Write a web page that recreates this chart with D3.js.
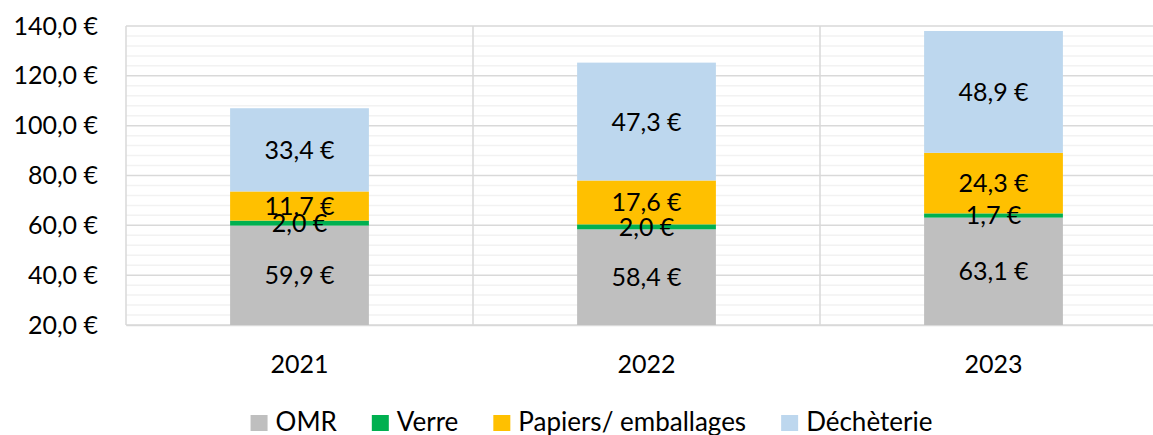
<!DOCTYPE html>
<html>
<head>
<meta charset="utf-8">
<script src="https://cdn.jsdelivr.net/npm/d3@7"></script>
<style>
  body { margin: 0; background: #fff; }
  svg { display: block; font-family: Lato, "Open Sans", sans-serif; }
</style>
</head>
<body>
<svg id="chart"></svg>
<script>
// stacked cost per year, by waste stream

/* DATA */
const years = ['2021', '2022', '2023'];
const seriesNames = ['OMR', 'Verre', 'Papiers/ emballages', 'Déchèterie'];
const omr = [59.9, 58.4, 63.1];
const verre = [2.0, 2.0, 1.7];
const papiers = [11.7, 17.6, 24.3];
const decheterie = [33.4, 47.3, 48.9];
const yTicks = [20, 40, 60, 80, 100, 120, 140];

const colors = ['#bfbfbf', '#00b050', '#ffc000', '#bdd7ee'];

/* LAYOUT */
const width = 1153,
    height = 435,
    margin = {top: 26, left: 126},
    plotW = 1041,
    plotH = 299;

const svg = d3.select('#chart')
    .attr('width', width)
    .attr('height', height);

const rows = years.map((y, i) => ({
    year: y,
    'OMR': omr[i],
    'Verre': verre[i],
    'Papiers/ emballages': papiers[i],
    'Déchèterie': decheterie[i]
}));

const stacked = d3.stack().keys(seriesNames)(rows);

const x = d3.scaleBand()
    .domain(years)
    .range([margin.left, margin.left + plotW])
    .paddingInner(0.6)
    .paddingOuter(0.3);

const y = d3.scaleLinear()
    .domain([20, 140])
    .range([margin.top + plotH, margin.top]);

const euro = v => d3.format('.1f')(v).replace('.', ',') + ' €';

/* GRID */
const minor = d3.range(20, 141, 4).filter(v => v % 20 !== 0);
svg.append('g').selectAll('line')
    .data(minor)
    .join('line')
    .attr('x1', margin.left).attr('x2', margin.left + plotW)
    .attr('y1', d => y(d)).attr('y2', d => y(d))
    .attr('stroke', '#f2f2f2')
    .attr('stroke-width', 1.5);

svg.append('g').selectAll('line')
    .data(yTicks)
    .join('line')
    .attr('x1', margin.left).attr('x2', margin.left + plotW)
    .attr('y1', d => y(d)).attr('y2', d => y(d))
    .attr('stroke', '#d9d9d9')
    .attr('stroke-width', 1.5);

// category separators
const seps = d3.range(years.length + 1).map(i => margin.left + i * plotW / years.length);
svg.append('g').selectAll('line')
    .data(seps)
    .join('line')
    .attr('x1', d => d).attr('x2', d => d)
    .attr('y1', margin.top).attr('y2', margin.top + plotH)
    .attr('stroke', '#d9d9d9')
    .attr('stroke-width', 1.5);

/* AXES */
const yAxis = svg.append('g')
    .attr('transform', `translate(${margin.left},0)`)
    .call(d3.axisLeft(y).tickValues(yTicks).tickFormat(euro).tickSize(0).tickPadding(28));
yAxis.select('.domain').remove();
yAxis.selectAll('text')
    .attr('font-size', 25)
    .attr('font-family', 'Lato, sans-serif')
    .attr('fill', '#000');

const xAxis = svg.append('g')
    .attr('transform', `translate(0,${margin.top + plotH})`)
    .call(d3.axisBottom(x).tickSize(0).tickPadding(30));
xAxis.select('.domain').attr('stroke', '#d9d9d9').attr('stroke-width', 1.5);
xAxis.selectAll('text')
    .attr('font-size', 25)
    .attr('font-family', 'Lato, sans-serif')
    .attr('fill', '#000');

/* BARS */
const layers = svg.append('g').selectAll('g')
    .data(stacked)
    .join('g')
    .attr('fill', (d, i) => colors[i]);

layers.selectAll('rect')
    .data(d => d)
    .join('rect')
    .attr('x', d => x(d.data.year))
    .attr('width', x.bandwidth())
    .attr('y', d => y(d[1]))
    .attr('height', d => y(Math.max(20, d[0])) - y(d[1]));

/* LABELS */
const labels = svg.append('g');
stacked.forEach(layer => {
    layer.forEach(d => {
        const lo = Math.max(20, d[0]);
        labels.append('text')
            .attr('x', x(d.data.year) + x.bandwidth() / 2)
            .attr('y', y((lo + d[1]) / 2))
            .attr('dy', '0.36em')
            .attr('text-anchor', 'middle')
            .attr('font-size', 25)
            .attr('fill', '#000')
            .text(euro(d[1] - d[0]));
    });
});

/* LEGEND */
const legend = svg.append('g');
let lx = 0;
seriesNames.forEach((name, i) => {
    const item = legend.append('g').attr('transform', `translate(${lx},0)`);
    item.append('rect')
        .attr('x', 0).attr('y', 415)
        .attr('width', 17).attr('height', 16)
        .attr('fill', colors[i]);
    const t = item.append('text')
        .attr('x', 25).attr('y', 431)
        .attr('font-size', 26)
        .attr('fill', '#000')
        .text(name);
    lx += 25 + t.node().getComputedTextLength() + 35;
});
const legendW = lx - 35;
legend.attr('transform', `translate(${591.5 - legendW / 2},0)`);
</script>
</body>
</html>
